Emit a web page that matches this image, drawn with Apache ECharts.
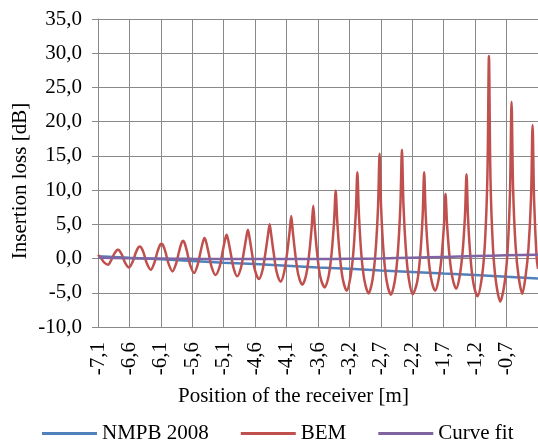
<!DOCTYPE html>
<html><head><meta charset="utf-8">
<script src="https://cdn.jsdelivr.net/npm/echarts@6/dist/echarts.min.js"></script>
<style>html,body{margin:0;padding:0;background:#fff}#c{width:538px;height:445px}</style>
</head><body><div id="c"></div>
<script>
// x tick positions (m) and their labels
const tickPositions = [-7.09, -6.598, -6.106, -5.614, -5.122, -4.63, -4.138, -3.646, -3.154, -2.662, -2.17, -1.678, -1.186, -0.694];
const tickLabels = ['-7,1','-6,6','-6,1','-5,6','-5,1','-4,6','-4,1','-3,6','-3,2','-2,7','-2,2','-1,7','-1,2','-0,7'];

// NMPB 2008 and curve fit, sampled at these positions (m)
const linePositions = [-7.09, -6.598, -6.106, -5.614, -5.122, -4.63, -4.138, -3.646, -3.154, -2.662, -2.17, -1.678, -1.186, -0.694, -0.202];
const nmpbValues = [0.35, 0.10, -0.10, -0.35, -0.60, -0.80, -1.05, -1.30, -1.50, -1.75, -1.95, -2.20, -2.40, -2.65, -2.90];
const curveFitValues = [0.12, 0.05, 0.00, -0.04, -0.06, -0.07, -0.07, -0.06, -0.03, 0.02, 0.12, 0.24, 0.36, 0.47, 0.57];

// BEM: positions (m) and insertion loss (dB)
const bemPositions = [
 -7.090,-7.045,-6.990,-6.933,
 -6.887,-6.840,-6.801,-6.777,-6.753,-6.714,-6.667,-6.604,
 -6.546,-6.499,-6.460,-6.436,-6.412,-6.373,-6.326,-6.264,
 -6.206,-6.159,-6.120,-6.096,-6.072,-6.033,-5.986,-5.924,
 -5.868,-5.821,-5.782,-5.758,-5.734,-5.695,-5.648,-5.585,
 -5.532,-5.485,-5.446,-5.422,-5.398,-5.359,-5.312,-5.250,
 -5.187,-5.140,-5.101,-5.077,-5.053,-5.014,-4.967,-4.911,
 -4.853,-4.806,-4.767,-4.743,-4.719,-4.680,-4.633,-4.571,
 -4.513,-4.466,-4.427,-4.403,-4.379,-4.340,-4.293,-4.231,
 -4.175,-4.128,-4.089,-4.065,-4.041,-4.002,-3.955,-3.892,
 -3.830,-3.783,-3.744,-3.720,-3.696,-3.657,-3.610,-3.541,
 -3.479,-3.432,-3.393,-3.369,-3.345,-3.306,-3.259,-3.196,
 -3.140,-3.093,-3.054,-3.030,-3.006,-2.967,-2.920,-2.854,
 -2.792,-2.745,-2.706,-2.682,-2.658,-2.619,-2.572,-2.505,
 -2.442,-2.395,-2.356,-2.332,-2.308,-2.269,-2.222,-2.162,
 -2.094,-2.047,-2.008,-1.984,-1.960,-1.921,-1.874,-1.812,
 -1.760,-1.713,-1.674,-1.650,-1.626,-1.587,-1.540,-1.483,
 -1.431,-1.384,-1.345,-1.321,-1.297,-1.258,-1.211,-1.149,
 -1.080,-1.033,-0.994,-0.970,-0.946,-0.907,-0.860,-0.793,
 -0.726,-0.679,-0.640,-0.616,-0.592,-0.553,-0.506,-0.448,
 -0.398,-0.351,-0.311,-0.287,-0.263,-0.224,-0.202
];
const bemValues = [
 0.55,0.10,-0.60,-0.90,
 -0.29,0.63,1.17,1.28,1.15,0.51,-0.58,-1.30,
 -0.44,0.85,1.62,1.77,1.60,0.75,-0.69,-1.64,
 -0.58,1.02,1.97,2.16,1.96,0.95,-0.75,-1.88,
 -0.76,1.03,2.29,2.60,2.27,0.96,-0.92,-2.10,
 -0.98,0.96,2.49,3.00,2.46,0.84,-1.21,-2.40,
 -1.23,0.95,2.77,3.47,2.74,0.86,-1.39,-2.60,
 -1.38,1.00,3.18,4.20,3.12,0.82,-1.70,-3.00,
 -1.63,1.02,3.58,5.03,3.51,0.82,-1.97,-3.40,
 -1.96,0.92,4.09,6.20,3.99,0.68,-2.33,-3.83,
 -2.33,0.78,4.70,7.70,4.60,0.55,-2.67,-4.22,
 -2.53,0.86,5.66,9.90,5.52,0.56,-2.95,-4.70,
 -2.80,0.84,6.72,12.60,6.58,0.56,-3.15,-5.10,
 -3.06,1.02,7.55,15.30,7.47,0.88,-3.24,-5.30,
 -3.18,1.06,7.84,15.90,7.88,1.13,-3.09,-5.20,
 -3.42,0.32,6.19,12.60,6.37,0.66,-2.97,-4.70,
 -3.14,0.11,4.92,9.45,5.02,0.31,-2.88,-4.40,
 -2.73,0.78,6.29,12.30,5.89,0.02,-3.72,-5.50,
 -2.69,2.22,12.05,29.60,11.67,1.63,-3.39,-6.26,
 -3.64,1.03,9.78,22.90,10.28,1.87,-2.62,-5.14,
 -2.68,1.51,8.90,19.50,8.50,0.20,-1.50
];

const FONT = "'Liberation Serif', 'Times New Roman', 'DejaVu Serif', serif";
const GRID = '#898989';
const zip = (xs, ys) => xs.map((x, i) => [x, ys[i]]);
const labelFor = v => {
  let best = 0;
  tickPositions.forEach((p, i) => { if (Math.abs(p - v) < Math.abs(tickPositions[best] - v)) best = i; });
  return tickLabels[best];
};

const chart = echarts.init(document.getElementById('c'), null, {renderer: 'canvas'});
chart.setOption({
  animation: false,
  backgroundColor: '#fff',
  textStyle: {fontFamily: FONT},
  grid: {left: 98, right: 0, top: 19, bottom: 118, containLabel: false},
  title: {
    text: 'Position of the receiver [m]', left: 178, top: 386, padding: 0,
    textStyle: {fontFamily: FONT, fontSize: 21, fontWeight: 'normal', color: '#000'}
  },
  legend: {
    left: 42, top: 423, padding: 0, itemWidth: 55, itemHeight: 3, itemGap: 32, icon: 'rect',
    textStyle: {fontFamily: FONT, fontSize: 21, color: '#000'},
    data: ['NMPB 2008', 'BEM', 'Curve fit']
  },
  graphic: [{
    type: 'text', x: 20, y: 181, rotation: Math.PI / 2,
    style: {text: 'Insertion loss [dB]', font: '21px ' + FONT, fill: '#000', align: 'center', verticalAlign: 'middle'}
  }],
  xAxis: {
    type: 'value', min: -7.09, max: -0.202,
    axisLine: {show: true, lineStyle: {color: GRID, width: 1}},
    axisTick: {show: true, length: 0, customValues: tickPositions, lineStyle: {color: GRID}},
    axisLabel: {customValues: tickPositions, rotate: 90, margin: 15, fontFamily: FONT, fontSize: 21, color: '#000', formatter: labelFor},
    splitLine: {show: true, lineStyle: {color: GRID, width: 1}}
  },
  yAxis: {
    type: 'value', min: -10, max: 35, interval: 5,
    axisLine: {show: true, lineStyle: {color: GRID, width: 1}},
    axisTick: {show: true, inside: false, length: 6, lineStyle: {color: GRID}},
    axisLabel: {margin: 16, fontFamily: FONT, fontSize: 21, color: '#000', formatter: v => v.toFixed(1).replace('.', ',')},
    splitLine: {show: true, lineStyle: {color: GRID, width: 1}}
  },
  series: [
    {name: 'NMPB 2008', type: 'line', data: zip(linePositions, nmpbValues), symbol: 'none', color: '#4F81BD', lineStyle: {width: 2.5, color: '#4F81BD'}},
    {name: 'BEM', type: 'line', data: zip(bemPositions, bemValues), symbol: 'none', smooth: 0.3, color: '#C0504D', lineStyle: {width: 2.5, color: '#C0504D'}},
    {name: 'Curve fit', type: 'line', data: zip(linePositions, curveFitValues), symbol: 'none', smooth: true, color: '#8064A2', lineStyle: {width: 2.5, color: '#8064A2'}}
  ]
});
</script></body></html>
